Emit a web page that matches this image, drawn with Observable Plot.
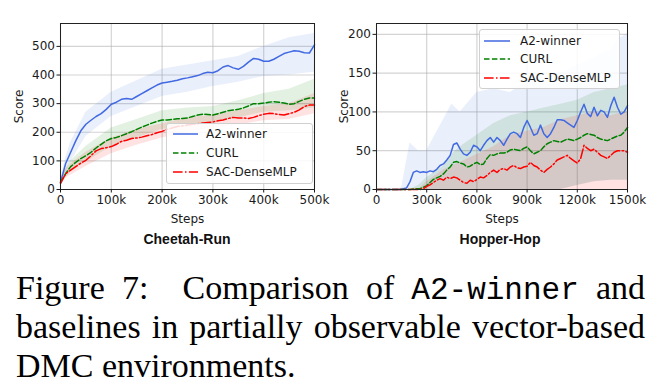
<!DOCTYPE html>
<html>
<head>
<meta charset="utf-8">
<script src="https://cdn.jsdelivr.net/npm/d3@7"></script>
<script src="https://cdn.jsdelivr.net/npm/@observablehq/plot@0.6"></script>
<style>
  html, body { margin: 0; padding: 0; background: #fff; }
  #root { position: relative; width: 672px; height: 392px; overflow: hidden; background: #fff; }
  .panel { position: absolute; top: 0; }
  .title { position: absolute; font-family: "Liberation Sans", Arial, sans-serif; font-weight: bold; font-size: 14px; color: #111; transform: translate(-50%, -50%); white-space: nowrap; }
  .legend { position: absolute; background: rgba(255,255,255,0.85); border: 1px solid #d0d0d0; border-radius: 3px; box-sizing: border-box; font-family: "DejaVu Sans", sans-serif; font-size: 12px; color: #1a1a1a; }
  .legend .row { position: absolute; left: 0; height: 14px; display: flex; align-items: center; white-space: nowrap; }
  .legend svg { display: block; }
  .cap { position: absolute; left: 16px; width: 629px; font-family: "Liberation Serif", "Times New Roman", serif; font-size: 34px; line-height: 39px; color: #000; white-space: nowrap; }
  .cap.j { text-align: justify; text-align-last: justify; white-space: normal; }
  .mono { font-family: "Liberation Mono", "Courier New", monospace; font-size: 31px; }
</style>
</head>
<body>
<div id="root">
  <div id="p1" class="panel" style="left:0"></div>
  <div id="p2" class="panel" style="left:336px"></div>
  <div id="t1" class="title" style="left:187px; top:239px"></div>
  <div id="t2" class="title" style="left:500px; top:239px"></div>
  <div id="lg1" class="legend" style="left:166px; top:123px; width:147px; height:61px"></div>
  <div id="lg2" class="legend" style="left:479px; top:29px; width:141px; height:60px"></div>
  <div class="cap j" style="top:268px">Figure 7:&nbsp; Comparison of <span class="mono">A2-winner</span> and</div>
  <div class="cap j" style="top:307px">baselines in partially observable vector-based</div>
  <div class="cap" style="top:346px">DMC environments.</div>
</div>
<script>
// ---------------- data ----------------
const seriesNames = ["A2-winner", "CURL", "SAC-DenseMLP"];
const seriesColors = ["#4169e1", "#008000", "#ff0000"];
const seriesDash = [null, "5.5,2.4", "9.6,2.4,1.5,2.4"];
const panelTitles = ["Cheetah-Run", "Hopper-Hop"];
const xLabel = "Steps";
const yLabel = "Score";

// Cheetah-Run (steps in thousands)
const cheetahXTicks = [0, 100, 200, 300, 400, 500];
const cheetahYTicks = [0, 100, 200, 300, 400, 500];
const cheetahSteps = [0,10,20,30,40,50,60,70,80,90,100,110,120,130,140,150,160,170,180,190,200,210,220,230,240,250,260,270,280,290,300,310,320,330,340,350,360,370,380,390,400,410,420,430,440,450,460,470,480,490,500];
const cheetahA2 = [25,90,130,170,205,228,242,255,265,280,298,305,315,318,315,325,335,345,355,365,372,375,378,382,387,390,394,398,405,410,408,415,428,433,425,420,430,445,458,455,448,448,455,465,475,480,485,483,478,477,505];
const cheetahCURL = [25,55,80,95,108,118,130,145,158,170,178,182,188,195,202,210,218,225,232,238,243,243,245,247,248,250,255,260,263,262,260,265,270,275,278,280,285,292,300,300,302,305,307,305,302,298,300,308,315,320,320];
const cheetahSAC = [20,55,68,80,92,102,118,135,143,146,150,158,168,172,178,180,183,188,192,198,203,210,215,220,222,225,228,230,232,234,236,240,243,248,252,250,250,248,252,258,263,266,265,262,260,265,270,278,290,295,295];
const cheetahBandSteps = [0,10,20,50,100,150,200,250,300,350,400,450,500];
const cheetahA2Lo = [20,60,95,185,255,290,325,340,360,375,395,400,410];
const cheetahA2Hi = [30,110,165,270,340,380,420,435,450,465,500,530,545];
const cheetahCURLLo = [20,40,60,95,150,180,210,220,235,250,270,275,285];
const cheetahCURLHi = [30,70,100,150,215,245,275,285,290,310,335,350,385];
const cheetahSACLo = [15,40,50,80,125,155,180,200,215,225,240,245,265];
const cheetahSACHi = [25,70,90,130,180,210,230,250,260,275,290,300,335];

// Hopper-Hop (steps in thousands, every 20k)
const hopperXTicks = [0, 300, 600, 900, 1200, 1500];
const hopperYTicks = [0, 50, 100, 150, 200];
const hopperSteps = [0,20,40,60,80,100,120,140,160,180,200,220,240,260,280,300,320,340,360,380,400,420,440,460,480,500,520,540,560,580,600,620,640,660,680,700,720,740,760,780,800,820,840,860,880,900,920,940,960,980,1000,1020,1040,1060,1080,1100,1120,1140,1160,1180,1200,1220,1240,1260,1280,1300,1320,1340,1360,1380,1400,1420,1440,1460,1480,1500];
const hopperA2 = [0,0,0,0,0,0,0,0,1,2,10,22,24,22,23,22,24,23,26,31,33,38,44,58,60,52,46,44,48,57,55,50,57,63,67,61,67,63,57,65,72,74,72,67,80,89,80,70,72,83,72,67,72,80,90,90,89,86,83,80,89,100,110,98,94,106,95,102,100,93,108,119,106,97,100,108];
const hopperCURL = [0,0,0,0,0,0,0,0,0,0,0,0.5,1,1,3,5,9,13,15,17,20,25,29,35,36,34,33,29,30,33,35,32,33,40,45,44,46,47,47,48,51,52,51,50,53,55,50,46,48,50,55,59,61,63,62,61,63,65,64,63,65,67,70,72,71,70,67,65,64,63,65,67,69,70,74,80];
const hopperSAC = [0,0,0,0,0,0,0,0,0,0,0,0,0,0,1,4,6,9,12,14,12,16,14,16,15,12,9,8,12,10,13,16,15,18,22,25,22,26,27,25,29,31,28,27,29,30,35,31,29,25,22,26,29,33,38,40,42,44,40,37,34,40,57,53,50,52,48,44,42,40,44,48,50,50,50,48];
const hopperBandSteps = [0,100,150,200,250,300,400,450,500,600,700,800,900,1000,1100,1200,1300,1400,1450,1500];
const hopperA2Lo = [0,0,0,0,0,0,0,0,0,0,0,0,0,0,0,5,10,12,12,12];
const hopperA2Hi = [0,0,2,60,50,50,90,110,100,125,130,125,140,145,150,160,170,180,195,200];
const hopperCURLLo = [0,0,0,0,0,0,0,0,0,0,0,0,0,0,0,5,10,12,12,12];
const hopperCURLHi = [0,0,0,0,5,15,30,45,55,70,85,95,100,105,110,115,125,130,132,135];
const hopperSACLo = [0,0,0,0,0,0,0,0,0,0,0,0,0,0,0,0,0,0,0,0];
const hopperSACHi = [0,0,0,0,0,10,25,30,35,45,55,70,75,80,90,95,100,95,98,100];

// ---------------- drawing ----------------
const fmtK = d => d === 0 ? "0" : d + "k";

function makePanel(cfg) {
  const marks = [
    Plot.gridX(cfg.xTicks, {stroke: "#b0b0b0", strokeOpacity: 0.55, strokeWidth: 1.2}),
    Plot.gridY(cfg.yTicks, {stroke: "#b0b0b0", strokeOpacity: 0.55, strokeWidth: 1.2})
  ];
  cfg.bands.forEach((b, k) => {
    const data = cfg.bandSteps.map((x, i) => ({x, lo: b.lo[i], hi: b.hi[i]}));
    marks.push(Plot.areaY(data, {x: "x", y1: "lo", y2: "hi", fill: seriesColors[k], fillOpacity: 0.11, curve: "linear"}));
  });
  cfg.values.forEach((vals, k) => {
    const data = cfg.steps.map((x, i) => ({x, y: vals[i]}));
    const opts = {x: "x", y: "y", stroke: seriesColors[k], strokeWidth: 1.5};
    if (seriesDash[k]) opts.strokeDasharray = seriesDash[k];
    marks.push(Plot.line(data, opts));
  });
  marks.push(Plot.frame({stroke: "#222", strokeWidth: 1}));
  marks.push(Plot.axisX(cfg.xTicks, {tickFormat: fmtK, tickSize: 3.5, tickPadding: 2, label: xLabel, labelAnchor: "center", labelArrow: "none", labelOffset: 33}));
  marks.push(Plot.axisY(cfg.yTicks, {tickSize: 3.5, tickPadding: 2, label: yLabel, labelAnchor: "center", labelArrow: "none", labelOffset: cfg.yLabelOffset}));
  return Plot.plot({
    width: 336,
    height: 230,
    marginLeft: cfg.marginLeft,
    marginRight: cfg.marginRight,
    marginTop: 23,
    marginBottom: 41,
    x: {domain: cfg.xDomain},
    y: {domain: cfg.yDomain},
    style: {fontFamily: "DejaVu Sans, sans-serif", fontSize: "12px", color: "#1a1a1a", background: "transparent", overflow: "visible"},
    marks
  });
}

document.getElementById("p1").append(makePanel({
  steps: cheetahSteps,
  values: [cheetahA2, cheetahCURL, cheetahSAC],
  bandSteps: cheetahBandSteps,
  bands: [{lo: cheetahA2Lo, hi: cheetahA2Hi}, {lo: cheetahCURLLo, hi: cheetahCURLHi}, {lo: cheetahSACLo, hi: cheetahSACHi}],
  xTicks: cheetahXTicks, yTicks: cheetahYTicks,
  xDomain: [0, 500], yDomain: [0, 580],
  marginLeft: 60, marginRight: 22, yLabelOffset: 46
}));
document.getElementById("p2").append(makePanel({
  steps: hopperSteps,
  values: [hopperA2, hopperCURL, hopperSAC],
  bandSteps: hopperBandSteps,
  bands: [{lo: hopperA2Lo, hi: hopperA2Hi}, {lo: hopperCURLLo, hi: hopperCURLHi}, {lo: hopperSACLo, hi: hopperSACHi}],
  xTicks: hopperXTicks, yTicks: hopperYTicks,
  xDomain: [0, 1500], yDomain: [0, 214],
  marginLeft: 40, marginRight: 45, yLabelOffset: 37
}));

document.getElementById("t1").textContent = panelTitles[0];
document.getElementById("t2").textContent = panelTitles[1];

function fillLegend(el, rows, lineX0, lineX1, textX) {
  seriesNames.forEach((name, k) => {
    const row = document.createElement("div");
    row.className = "row";
    row.style.top = (rows[k] - 7) + "px";
    const w = lineX1 - lineX0;
    const svg = d3.create("svg").attr("width", w).attr("height", 14).style("position", "absolute").style("left", lineX0 + "px");
    const ln = svg.append("line").attr("x1", 0).attr("x2", w).attr("y1", 7).attr("y2", 7)
      .attr("stroke", seriesColors[k]).attr("stroke-width", 1.5);
    if (seriesDash[k]) ln.attr("stroke-dasharray", seriesDash[k]);
    row.append(svg.node());
    const t = document.createElement("span");
    t.textContent = name;
    t.style.position = "absolute";
    t.style.left = textX + "px";
    row.append(t);
    el.append(row);
  });
}
fillLegend(document.getElementById("lg1"), [10, 29, 48], 6, 31, 39);
fillLegend(document.getElementById("lg2"), [11, 29, 48], 4, 30, 40);
</script>
</body>
</html>
